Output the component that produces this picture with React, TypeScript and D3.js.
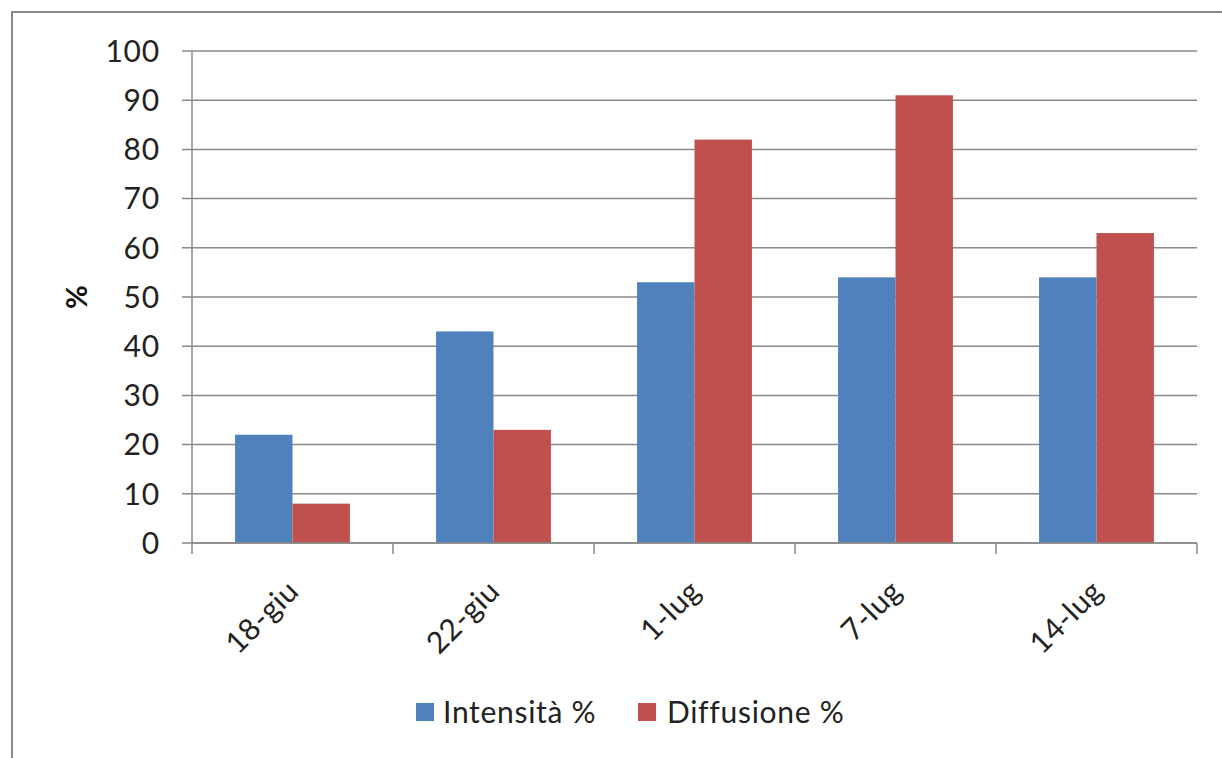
import React from "react";
import * as d3 from "d3";

const categories = ["18-giu", "22-giu", "1-lug", "7-lug", "14-lug"];
const intensita = [22, 43, 53, 54, 54];
const diffusione = [8, 23, 82, 91, 63];
const seriesNames = ["Intensità %", "Diffusione %"];
const seriesColors = ["#4F81BD", "#C0504D"];
const yTicks = [0, 10, 20, 30, 40, 50, 60, 70, 80, 90, 100];

const W = 1222;
const H = 758;
const FONT = "Lato, 'Open Sans', sans-serif";

export default function App() {
  const left = 192;
  const right = 1197;
  const top = 51;
  const bottom = 543;

  const x = d3.scaleBand<string>().domain(categories).range([left, right]).paddingInner(0).paddingOuter(0);
  const y = d3.scaleLinear().domain([0, 100]).range([bottom, top]);
  const band = x.bandwidth();
  const barW = band / 3.5;
  const sub = d3.scaleBand<number>().domain([0, 1]).range([0.75 * barW, 2.75 * barW]);

  const data = [intensita, diffusione];
  const gridColor = "#8a8a8a";

  const boundaries = categories.map((c) => x(c) as number).concat([right]);

  return (
    <svg width={W} height={H} style={{ position: "absolute", left: 0, top: 0, background: "#fff" }} fontFamily={FONT}>
      <rect x={0} y={0} width={W} height={H} fill="#fff" />
      {/* outer frame */}
      <rect x={12} y={12} width={W + 50} height={H + 50} fill="none" stroke="#888" strokeWidth={2} />
      {/* gridlines */}
      {yTicks.map((t) => (
        <line key={"g" + t} x1={left - 10} x2={right} y1={y(t)} y2={y(t)} stroke={gridColor} strokeWidth={1.5} />
      ))}
      {/* bars */}
      {data.map((series, si) =>
        series.map((v, i) => (
          <rect
            key={`b${si}-${i}`}
            x={(x(categories[i]) as number) + (sub(si) as number)}
            y={y(v)}
            width={sub.bandwidth()}
            height={y(0) - y(v)}
            fill={seriesColors[si]}
          />
        ))
      )}
      {/* y axis */}
      <line x1={left} x2={left} y1={top} y2={bottom} stroke={gridColor} strokeWidth={1.5} />
      {/* x axis */}
      <line x1={left} x2={right} y1={bottom} y2={bottom} stroke={gridColor} strokeWidth={1.5} />
      {boundaries.map((b, i) => (
        <line key={"xt" + i} x1={b} x2={b} y1={bottom} y2={bottom + 11} stroke={gridColor} strokeWidth={1.5} />
      ))}
      {/* y tick labels */}
      {yTicks.map((t) => (
        <text key={"yl" + t} x={160} y={y(t)} dy="0.36em" textAnchor="end" fontSize={30} letterSpacing={0.8} fill="#222">
          {t}
        </text>
      ))}
      {/* y title */}
      <text
        transform={`translate(77,${(top + bottom) / 2}) rotate(-90)`}
        textAnchor="middle"
        dy="0.35em"
        fontSize={29}
        fontWeight="bold"
        fill="#111"
      >
        %
      </text>
      {/* x labels */}
      {categories.map((c) => {
        const cx = (x(c) as number) + band / 2 + 8;
        const cy = bottom + 50;
        return (
          <text key={"xl" + c} transform={`translate(${cx},${cy}) rotate(-45)`} textAnchor="end" fontSize={30} letterSpacing={0.5} fill="#222">
            {c}
          </text>
        );
      })}
      {/* legend */}
      <g>
        <rect x={416} y={703} width={18} height={18} fill={seriesColors[0]} />
        <text x={443} y={723} fontSize={30} letterSpacing={0.7} fill="#222">
          {seriesNames[0]}
        </text>
        <rect x={638} y={703} width={18} height={18} fill={seriesColors[1]} />
        <text x={667} y={723} fontSize={30} letterSpacing={0.7} fill="#222">
          {seriesNames[1]}
        </text>
      </g>
    </svg>
  );
}
